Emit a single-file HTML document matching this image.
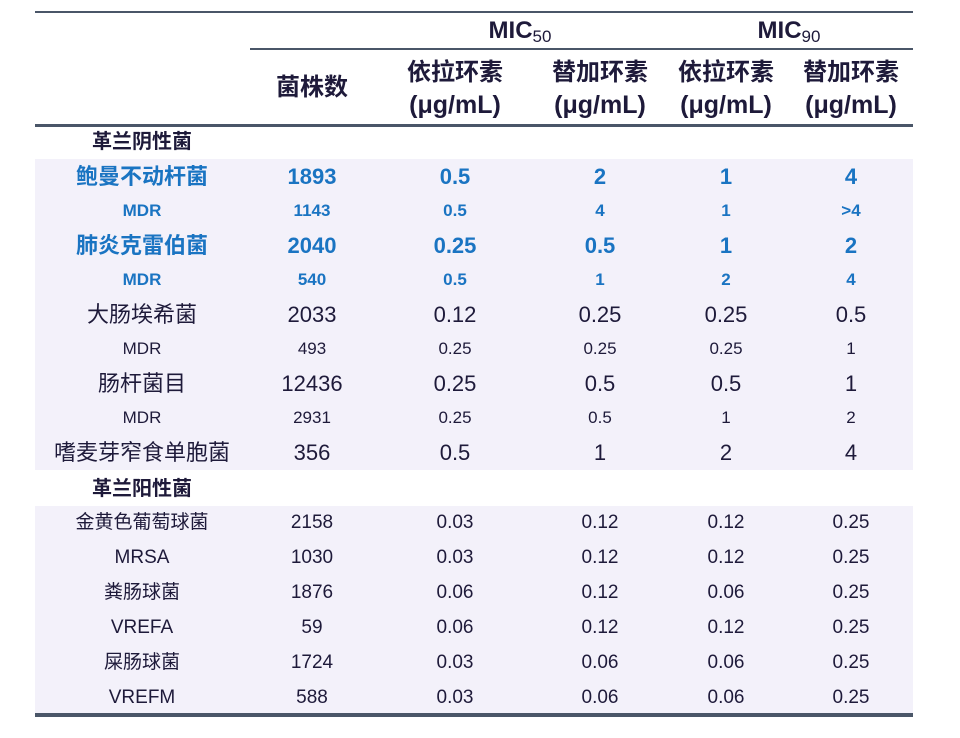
<!DOCTYPE html>
<html><head><meta charset="utf-8"><style>
body{margin:0;width:960px;height:738px;background:#fff;position:relative;overflow:hidden;font-family:"Liberation Sans","Noto Sans CJK SC",sans-serif;color:#1e1a3a}
.a{position:absolute}
.line{position:absolute;background:#4a5668}
.bg{position:absolute;left:35px;width:878px;background:#f3f1fa}
.r{position:absolute;left:0;width:960px;height:34px;line-height:34px}
.r span{position:absolute;transform:translateX(-50%);white-space:nowrap}
.c0{left:142px}.c1{left:312px}.c2{left:455px}.c3{left:600px}.c4{left:726px}.c5{left:851px}
.big{font-size:22px}.bl{color:#1a74c2;font-weight:bold}.mdr{font-size:17px}.sm{font-size:19px}
.h{font-weight:bold;font-size:24px}
sub{font-size:17px;vertical-align:-4px;font-weight:normal}
</style></head><body>
<div class="line" style="left:35px;top:11px;width:878px;height:2px"></div>
<div class="line" style="left:250px;top:48px;width:663px;height:2px"></div>
<div class="line" style="left:35px;top:124px;width:878px;height:3px"></div>
<div class="bg" style="top:159px;height:311px"></div>
<div class="bg" style="top:506px;height:207px"></div>
<div class="line" style="left:35px;top:713px;width:878px;height:4px"></div>

<div class="a h" style="left:520px;top:17px;transform:translateX(-50%)">MIC<sub>50</sub></div>
<div class="a h" style="left:789px;top:17px;transform:translateX(-50%)">MIC<sub>90</sub></div>
<div class="r h" style="top:71px"><span class="c1">菌株数</span></div>
<div class="r h" style="top:56px"><span class="c2">依拉环素</span><span class="c3">替加环素</span><span class="c4">依拉环素</span><span class="c5">替加环素</span></div>
<div class="r h" style="top:88px;font-size:25px;font-weight:600"><span class="c2">(μg/mL)</span><span class="c3">(μg/mL)</span><span class="c4">(μg/mL)</span><span class="c5">(μg/mL)</span></div>

<div class="r" style="top:125px;font-size:20px;font-weight:bold"><span class="c0">革兰阴性菌</span></div>
<div class="r big bl" style="top:160px"><span class="c0">鲍曼不动杆菌</span><span class="c1">1893</span><span class="c2">0.5</span><span class="c3">2</span><span class="c4">1</span><span class="c5">4</span></div>
<div class="r mdr bl" style="top:194px"><span class="c0">MDR</span><span class="c1">1143</span><span class="c2">0.5</span><span class="c3">4</span><span class="c4">1</span><span class="c5">&gt;4</span></div>
<div class="r big bl" style="top:229px"><span class="c0">肺炎克雷伯菌</span><span class="c1">2040</span><span class="c2">0.25</span><span class="c3">0.5</span><span class="c4">1</span><span class="c5">2</span></div>
<div class="r mdr bl" style="top:263px"><span class="c0">MDR</span><span class="c1">540</span><span class="c2">0.5</span><span class="c3">1</span><span class="c4">2</span><span class="c5">4</span></div>
<div class="r big" style="top:298px"><span class="c0">大肠埃希菌</span><span class="c1">2033</span><span class="c2">0.12</span><span class="c3">0.25</span><span class="c4">0.25</span><span class="c5">0.5</span></div>
<div class="r mdr" style="top:332px"><span class="c0">MDR</span><span class="c1">493</span><span class="c2">0.25</span><span class="c3">0.25</span><span class="c4">0.25</span><span class="c5">1</span></div>
<div class="r big" style="top:367px"><span class="c0">肠杆菌目</span><span class="c1">12436</span><span class="c2">0.25</span><span class="c3">0.5</span><span class="c4">0.5</span><span class="c5">1</span></div>
<div class="r mdr" style="top:401px"><span class="c0">MDR</span><span class="c1">2931</span><span class="c2">0.25</span><span class="c3">0.5</span><span class="c4">1</span><span class="c5">2</span></div>
<div class="r big" style="top:436px"><span class="c0">嗜麦芽窄食单胞菌</span><span class="c1">356</span><span class="c2">0.5</span><span class="c3">1</span><span class="c4">2</span><span class="c5">4</span></div>

<div class="r" style="top:472px;font-size:20px;font-weight:bold"><span class="c0">革兰阳性菌</span></div>
<div class="r sm" style="top:506px"><span class="c0">金黄色葡萄球菌</span><span class="c1">2158</span><span class="c2">0.03</span><span class="c3">0.12</span><span class="c4">0.12</span><span class="c5">0.25</span></div>
<div class="r sm" style="top:541px"><span class="c0">MRSA</span><span class="c1">1030</span><span class="c2">0.03</span><span class="c3">0.12</span><span class="c4">0.12</span><span class="c5">0.25</span></div>
<div class="r sm" style="top:576px"><span class="c0">粪肠球菌</span><span class="c1">1876</span><span class="c2">0.06</span><span class="c3">0.12</span><span class="c4">0.06</span><span class="c5">0.25</span></div>
<div class="r sm" style="top:611px"><span class="c0">VREFA</span><span class="c1">59</span><span class="c2">0.06</span><span class="c3">0.12</span><span class="c4">0.12</span><span class="c5">0.25</span></div>
<div class="r sm" style="top:646px"><span class="c0">屎肠球菌</span><span class="c1">1724</span><span class="c2">0.03</span><span class="c3">0.06</span><span class="c4">0.06</span><span class="c5">0.25</span></div>
<div class="r sm" style="top:681px"><span class="c0">VREFM</span><span class="c1">588</span><span class="c2">0.03</span><span class="c3">0.06</span><span class="c4">0.06</span><span class="c5">0.25</span></div>
</body></html>
